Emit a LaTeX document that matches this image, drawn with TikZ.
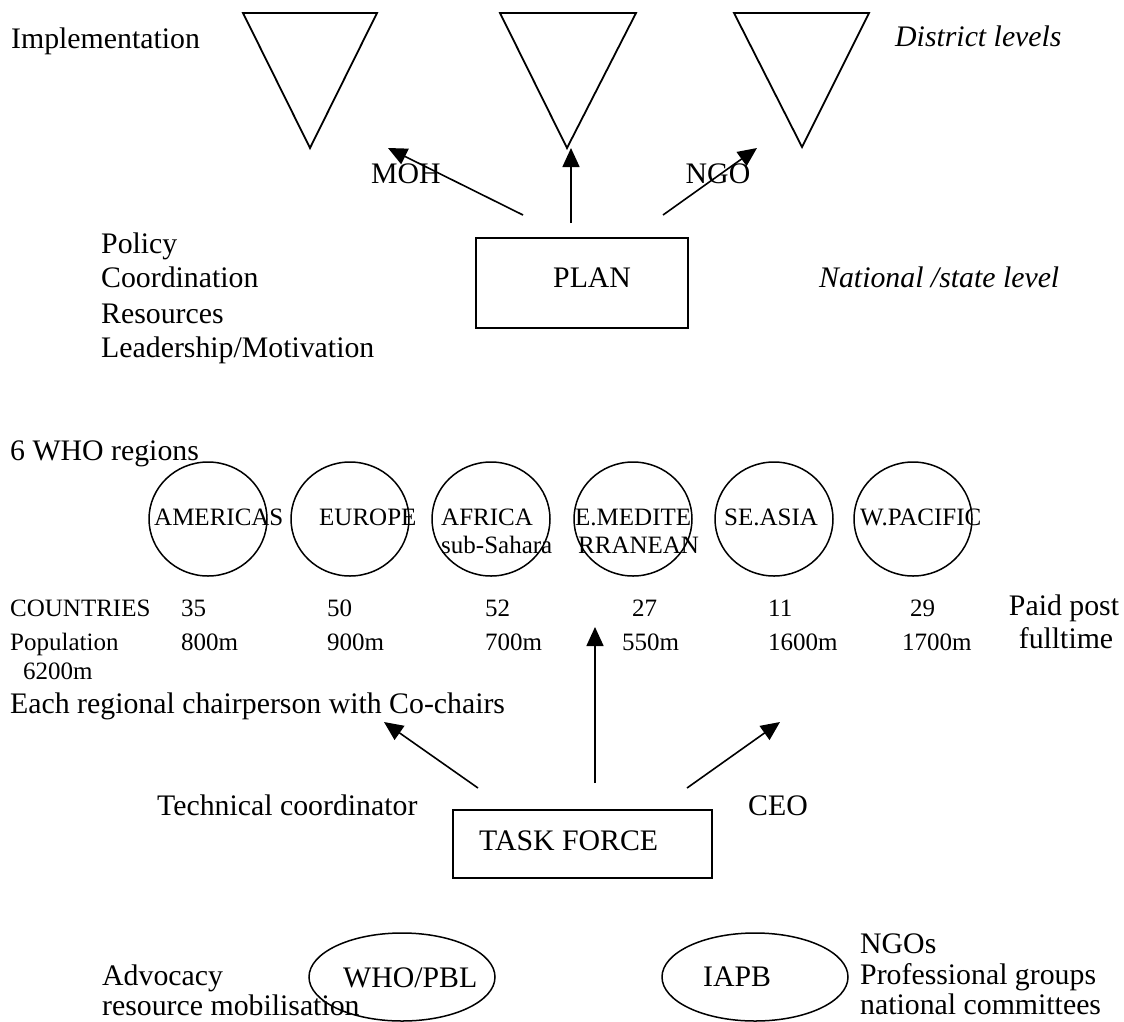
\documentclass[tikz,border=0pt]{standalone}
\usepackage{fontspec}
\setmainfont{Liberation Serif}
\usetikzlibrary{arrows.meta,shapes.geometric}
\begin{document}
\begin{tikzpicture}[x=1pt,y=-1pt,
  big/.style={font=\fontsize{29.8}{33}\selectfont, inner sep=0pt, anchor=base west},
  small/.style={font=\fontsize{25}{29}\selectfont, inner sep=0pt, anchor=base west},
  stack/.style={font=\fontsize{29.8}{30.5}\selectfont, inner sep=0pt, align=left, anchor=south west},
  arr/.style={line width=1.6pt, -{Triangle[length=19pt,width=17pt]}},
  tri/.style={draw, line width=1.8pt, line join=miter},
  reg/.style={ellipse, draw, line width=1.5pt, minimum width=118pt, minimum height=114pt, inner sep=0pt},
  org/.style={ellipse, draw, line width=1.5pt, minimum width=186pt, minimum height=88pt, inner sep=0pt},
  boxx/.style={draw, line width=1.6pt, inner sep=0pt}]
\useasboundingbox (0,0) rectangle (1124,1021);

% ---- top: district triangles
\coordinate (t1a) at (243,13); \coordinate (t1b) at (377,13); \coordinate (t1c) at (310,148);
\coordinate (t2a) at (500,13); \coordinate (t2b) at (636,13); \coordinate (t2c) at (567,148);
\coordinate (t3a) at (734,13); \coordinate (t3b) at (869,13); \coordinate (t3c) at (802,147);
\draw[tri] (t1a) -- (t1b) -- (t1c) -- cycle;
\draw[tri] (t2a) -- (t2b) -- (t2c) -- cycle;
\draw[tri] (t3a) -- (t3b) -- (t3c) -- cycle;

\node[big] (impl) at (11,48) {Implementation};
\node[big] (dist) at (895,46) {\itshape District levels};

% ---- plan
\node[boxx, minimum width=212pt, minimum height=90pt] (plan) at (582,283) {};
\node[big] (plantxt) at (553,287) {PLAN};
\node[big] (nat) at (819,287) {\itshape National /state level};

\coordinate (mohs) at (523,215); \coordinate (mohe) at (388,148);
\coordinate (mids) at (571,223); \coordinate (mide) at (571,148);
\coordinate (ngos) at (663,215); \coordinate (ngoe) at (757,148);
\draw[arr] (mohs) -- (mohe);
\draw[arr] (mids) -- (mide);
\draw[arr] (ngos) -- (ngoe);
\node[big, anchor=base] (moh) at (406,183) {MOH};
\node[big, anchor=base] (ngo) at (718,183) {NGO};

\node[big] (pol) at (101,253) {Policy};
\node[big] (coord) at (101,287) {Coordination};
\node[big] (res) at (101,323) {Resources};
\node[big] (lead) at (101,357) {Leadership/Motivation};

% ---- WHO regions
\node[big] (who6) at (10,460) {6 WHO regions};
\node[reg] (c1) at (208,519) {};
\node[reg] (c2) at (350,519) {};
\node[reg] (c3) at (491,519) {};
\node[reg] (c4) at (633,519) {};
\node[reg] (c5) at (774,519) {};
\node[reg] (c6) at (913,519) {};
\node[small] (l1) at (154,525) {AMERICAS};
\node[small] (l2) at (319,525) {EUROPE};
\node[small] (l3) at (441,525) {AFRICA};
\node[small] (l3b) at (441,553) {sub-Sahara};
\node[small] (l4) at (575,525) {E.MEDITE};
\node[small] (l4b) at (578,553) {RRANEAN};
\node[small] (l5) at (724,525) {SE.ASIA};
\node[small] (l6) at (860,525) {W.PACIFIC};

\node[small] (cty) at (10,616) {COUNTRIES};
\node[small] (n1) at (181,616) {35};
\node[small] (n2) at (327,616) {50};
\node[small] (n3) at (485,616) {52};
\node[small] (n4) at (632,616) {27};
\node[small] (n5) at (768,616) {11};
\node[small] (n6) at (910,616) {29};
\node[big, anchor=base] (paid) at (1064,615) {Paid post};

\node[small] (pop) at (10,650) {Population};
\node[small] (p1) at (181,650) {800m};
\node[small] (p2) at (327,650) {900m};
\node[small] (p3) at (485,650) {700m};
\node[small] (p4) at (622,650) {550m};
\node[small] (p5) at (768,650) {1600m};
\node[small] (p6) at (902,650) {1700m};
\node[big, anchor=base] (full) at (1066,648) {fulltime};
\node[small] (tot) at (23,679) {6200m};
\node[big] (each) at (10,713) {Each regional chairperson with Co-chairs};

% ---- task force
\node[boxx, minimum width=259pt, minimum height=68pt] (tf) at (582.5,844) {};
\node[big] (tftxt) at (479,850) {TASK FORCE};
\node[big] (tech) at (157,815) {Technical coordinator};
\node[big] (ceo) at (748,815) {CEO};

\coordinate (ls) at (478,788); \coordinate (le) at (384,722);
\coordinate (vs) at (595,783); \coordinate (ve) at (595,627);
\coordinate (rs) at (687,788); \coordinate (re) at (780,722);
\draw[arr] (ls) -- (le);
\draw[arr] (vs) -- (ve);
\draw[arr] (rs) -- (re);

% ---- partners
\node[org] (whopbl) at (402,977) {};
\node[big] (whotxt) at (343,987) {WHO/PBL};
\node[org] (iapb) at (755,977) {};
\node[big] (iapbtxt) at (703,986) {IAPB};
\node[stack] (adv) at (102,1016) {Advocacy\\resource mobilisation};
\node[stack] (ngogrp) at (860,1015) {NGOs\\Professional groups\\national committees};
\end{tikzpicture}
\end{document}
